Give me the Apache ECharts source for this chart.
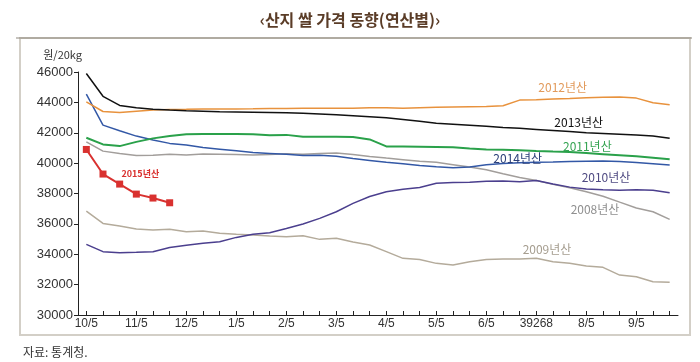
<!DOCTYPE html>
<html><head><meta charset="utf-8">
<script src="https://cdn.jsdelivr.net/npm/echarts@6/dist/echarts.min.js"></script>
<style>html,body{margin:0;padding:0;background:#fff}#c{width:700px;height:362px}</style>
</head><body><div id="c"></div>
<script>
var monthLabels = ['10/5','11/5','12/5','1/5','2/5','3/5','4/5','5/5','6/5','39268','8/5','9/5'];
var months = [10,11,12,1,2,3,4,5,6,7,8,9];
var days = [5,15,25];
var yTicks = {min:30000, max:46000, step:2000};

var y2013 = [45900,44400,43800,43640,43540,43490,43450,43420,43390,43370,43350,43330,43310,43280,43240,43180,43120,43050,42980,42880,42760,42630,42560,42490,42420,42350,42290,42220,42150,42080,42000,41950,41900,41850,41780,41640];
var y2012 = [44030,43400,43330,43420,43500,43530,43540,43560,43560,43570,43580,43600,43600,43620,43620,43620,43620,43640,43650,43620,43650,43680,43700,43720,43730,43780,44150,44170,44230,44260,44300,44340,44350,44280,43980,43850];
var y2014 = [44550,42500,42130,41780,41520,41300,41190,41030,40920,40810,40700,40640,40580,40500,40520,40460,40300,40180,40050,39960,39850,39760,39690,39750,39900,39980,40020,40060,40080,40110,40130,40140,40110,40040,39960,39870];
var y2011 = [41670,41230,41120,41400,41630,41780,41900,41910,41910,41910,41900,41830,41860,41730,41740,41740,41720,41560,41100,41100,41080,41060,41040,40960,40900,40880,40850,40800,40760,40730,40660,40590,40520,40450,40360,40260];
var y2008 = [41400,40790,40640,40500,40520,40580,40540,40600,40580,40560,40540,40560,40620,40580,40640,40660,40560,40440,40330,40230,40130,40050,39900,39750,39560,39300,39060,38850,38600,38380,38120,37820,37430,37050,36800,36300];
var y2010 = [34650,34170,34100,34130,34170,34450,34600,34720,34820,35110,35310,35420,35700,35990,36360,36800,37350,37800,38120,38280,38400,38680,38720,38740,38800,38820,38780,38860,38620,38420,38300,38240,38220,38250,38220,38050];
var y2009 = [36840,36030,35860,35660,35590,35640,35480,35530,35380,35310,35260,35200,35150,35220,34980,35050,34800,34610,34170,33730,33660,33400,33290,33510,33660,33680,33680,33730,33510,33400,33220,33140,32630,32520,32190,32150];
var y2015 = [40900,39280,38620,37960,37700,37390];

var categories = [];
months.forEach(function(m){ days.forEach(function(d){ categories.push(m + '/' + d); }); });

var FONT = '"Liberation Sans","Noto Sans CJK KR",sans-serif';
var KFONT = '"Noto Sans CJK KR","Liberation Sans",sans-serif';

function tag(name, idx, val, color, dx, size, bold) {
  return {
    symbol: 'circle', symbolSize: 0, silent: true,
    data: [{ coord: [idx, val], value: name }],
    label: { show: true, position: 'inside', offset: [dx, 0], formatter: name,
      color: color, fontSize: size || 12, fontFamily: KFONT, fontWeight: bold ? 'bold' : 'normal' }
  };
}

function line(name, data, color, width, lbl) {
  return { name: name, type: 'line', data: data, symbol: 'none', smooth: false,
    lineStyle: { color: color, width: width }, itemStyle: { color: color },
    z: 2, animation: false, markPoint: lbl };
}

var chart = echarts.init(document.getElementById('c'), null, { renderer: 'canvas' });
chart.setOption({
  animation: false,
  backgroundColor: '#fff',
  title: [
    { text: '‹산지 쌀 가격 동향(연산별)›', left: 'center', top: 7,
      textStyle: { color: '#5a3c27', fontSize: 16, fontWeight: 'bold', fontFamily: KFONT } },
    { text: '자료: 통계청.', left: 18, top: 341,
      textStyle: { color: '#333', fontSize: 12, fontWeight: 'normal', fontFamily: KFONT } }
  ],
  graphic: [
    { type: 'rect', shape: { x: 20, y: 38, width: 670, height: 297 }, style: { fill: 'none', stroke: '#d3cfc7', lineWidth: 2 }, silent: true },
    { type: 'line', shape: { x1: 16, y1: 38, x2: 692, y2: 38 }, style: { stroke: '#8d877c', lineWidth: 1 }, silent: true }
  ],
  grid: { left: 78, right: 22, top: 72, bottom: 47, containLabel: false },
  xAxis: {
    type: 'category', data: categories, boundaryGap: true,
    axisLine: { lineStyle: { color: '#222', width: 1 } },
    axisTick: { show: true, inside: true, length: 4, interval: 0, alignWithLabel: true, lineStyle: { color: '#222' } },
    axisLabel: { interval: 2, margin: 3, color: '#333', fontSize: 12, fontFamily: FONT,
      formatter: function (v, i) { return monthLabels[Math.floor(i / 3)]; } },
    splitLine: { show: false }
  },
  yAxis: {
    type: 'value', min: yTicks.min, max: yTicks.max, interval: yTicks.step,
    name: '원/20kg', nameLocation: 'end', nameGap: 12,
    nameTextStyle: { color: '#333', fontSize: 11, fontFamily: KFONT, align: 'right', padding: [0, -4, 0, 0] },
    axisLine: { show: true, lineStyle: { color: '#222', width: 1 } },
    axisTick: { show: true, inside: false, length: 4, lineStyle: { color: '#222' } },
    axisLabel: { margin: 5, color: '#333', fontSize: 13, fontFamily: FONT,
      formatter: function (v) { return String(v); } },
    splitLine: { show: false }
  },
  series: [
    line('2009년산', y2009, '#b4ab9b', 1.5, tag('2009년산', 28, 34340, '#a59d8f', -6)),
    line('2008년산', y2008, '#a29e9b', 1.5, tag('2008년산', 31, 36975, '#8f8f8f', -8)),
    line('2010년산', y2010, '#4b3f8e', 1.5, tag('2010년산', 31, 39080, '#4f4a82', 3)),
    line('2014년산', y2014, '#3358a6', 1.5, tag('2014년산', 26, 40330, '#2b3f78', -2)),
    line('2011년산', y2011, '#2aa14a', 2, tag('2011년산', 30, 41120, '#35a452', 1)),
    line('2012년산', y2012, '#e8923d', 1.5, tag('2012년산', 29, 45000, '#e29a5b', -7)),
    line('2013년산', y2013, '#111111', 1.5, tag('2013년산', 29, 42700, '#111', 9)),
    { name: '2015년산', type: 'line', data: y2015, symbol: 'rect', symbolSize: 7, z: 5,
      lineStyle: { color: '#d9312f', width: 2 }, itemStyle: { color: '#d9312f' },
      markPoint: tag('2015년산', 3, 39340, '#d9312f', 4, 9, true) }
  ]
});
</script></body></html>
